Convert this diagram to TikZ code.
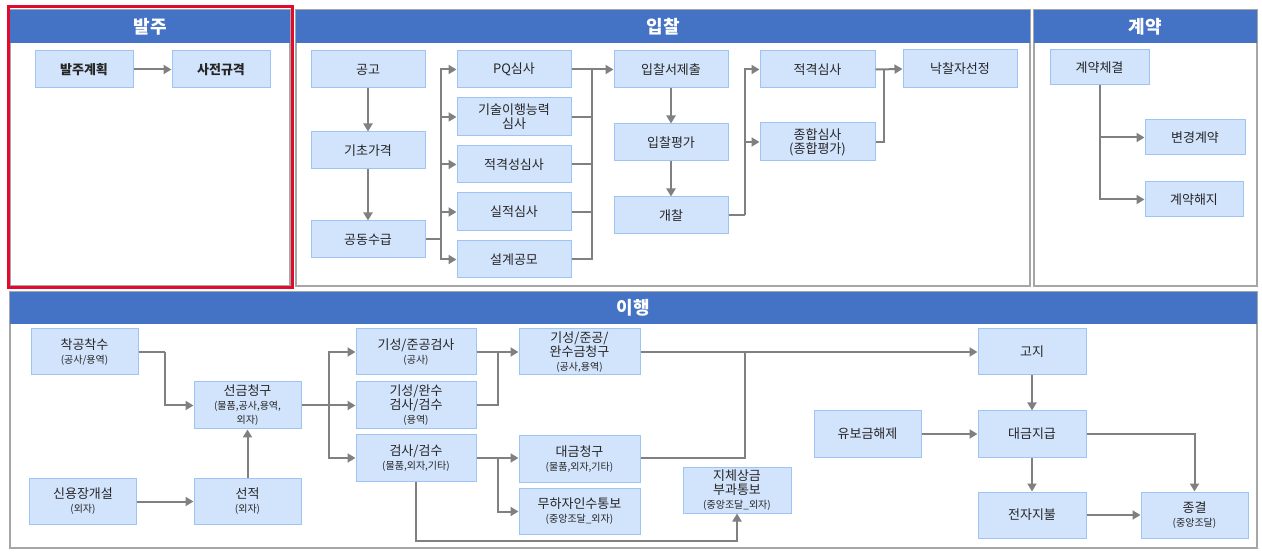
\documentclass[tikz,border=0pt]{standalone}
\usepackage{fontspec}
\setmainfont{Noto Sans CJK KR}
\usetikzlibrary{arrows.meta}
\definecolor{hdrblue}{HTML}{4472C4}
\definecolor{boxfill}{HTML}{D2E3FC}
\definecolor{boxline}{HTML}{9EC3F5}
\definecolor{lnkgray}{HTML}{808080}
\definecolor{pnlgray}{HTML}{A6A6A6}
\definecolor{selred}{HTML}{E00B2E}
\tikzset{
  box/.style={draw=boxline, fill=boxfill, line width=1pt, inner sep=1pt,
    align=center, font=\fontsize{13}{14}\selectfont, text=black!85},
  sub/.style={font=\fontsize{10}{11}\selectfont},
  lnk/.style={draw=lnkgray, line width=2pt},
  arr/.style={lnk, -{Triangle[length=8pt,width=9pt]}},
  pnl/.style={draw=pnlgray, line width=1.2pt},
  hdr/.style={fill=hdrblue, text=white, font=\fontsize{18}{20}\selectfont\bfseries}
}
\newcommand{\sm}[1]{{\fontsize{10}{11}\selectfont #1}}
\begin{document}
\begin{tikzpicture}[x=1pt,y=-1pt]
\useasboundingbox (0,0) rectangle (1262,553);
% panels
\draw[pnl] (10,10) rectangle (290,286);
\fill[hdrblue] (10,10) rectangle (290,43);
\node[hdr] at (150,27) {발주};
\draw[pnl] (296,10) rectangle (1030,286);
\fill[hdrblue] (296,10) rectangle (1030,43);
\node[hdr] at (663,27) {입찰};
\draw[pnl] (1034,10) rectangle (1257,286);
\fill[hdrblue] (1034,10) rectangle (1257,43);
\node[hdr] at (1145,27) {계약};
\draw[pnl] (10,292) rectangle (1257,548);
\fill[hdrblue] (10,292) rectangle (1257,324);
\node[hdr] at (633,308) {이행};
\draw[selred, line width=3pt] (8,7) rectangle (292,288);
% 발주
\node[box, minimum width=98, minimum height=37, font=\fontsize{13}{14}\selectfont\bfseries] (plan) at (84,69.5) {발주계획};
\node[box, minimum width=98, minimum height=37, font=\fontsize{13}{14}\selectfont\bfseries] (spec) at (221,69.5) {사전규격};
% 입찰
\node[box, minimum width=114, minimum height=37] (notice) at (368,69.5) {공고};
\node[box, minimum width=114, minimum height=37] (base) at (368,150.5) {기초가격};
\node[box, minimum width=114, minimum height=37] (joint) at (368,239.5) {공동수급};
\node[box, minimum width=114, minimum height=37] (pq) at (514,69.5) {PQ심사};
\node[box, minimum width=114, minimum height=38] (tech) at (514,117) {기술이행능력\\심사};
\node[box, minimum width=114, minimum height=37] (fit) at (514,164.5) {적격성심사};
\node[box, minimum width=114, minimum height=38] (perf) at (514,212) {실적심사};
\node[box, minimum width=114, minimum height=37] (design) at (514,259.5) {설계공모};
\node[box, minimum width=114, minimum height=37] (submit) at (671,69.5) {입찰서제출};
\node[box, minimum width=114, minimum height=37] (eval) at (671,142.5) {입찰평가};
\node[box, minimum width=114, minimum height=37] (open) at (671,215.5) {개찰};
\node[box, minimum width=115, minimum height=37] (qual) at (817.5,69.5) {적격심사};
\node[box, minimum width=115, minimum height=38] (total) at (817.5,142) {종합심사\\(종합평가)};
\node[box, minimum width=114, minimum height=38] (award) at (960,69) {낙찰자선정};
% 계약
\node[box, minimum width=99, minimum height=35] (sign) at (1099.5,67.5) {계약체결};
\node[box, minimum width=100, minimum height=35] (change) at (1195,137.5) {변경계약};
\node[box, minimum width=98, minimum height=35] (cancel) at (1194,199.5) {계약해지};
% 이행
\node[box, minimum width=107, minimum height=46] (start) at (84.5,352) {착공착수\\\sm{(공사/용역)}};
\node[box, minimum width=107, minimum height=47] (adv) at (247.5,405.5) {선금청구\\\sm{(물품,공사,용역,}\\\sm{외자)}};
\node[box, minimum width=107, minimum height=46] (lc) at (83,501.5) {신용장개설\\\sm{(외자)}};
\node[box, minimum width=107, minimum height=46] (ship) at (247.5,501.5) {선적\\\sm{(외자)}};
\node[box, minimum width=120, minimum height=46] (insp1) at (416,352) {기성/준공검사\\\sm{(공사)}};
\node[box, minimum width=120, minimum height=47] (insp2) at (416,405.5) {기성/완수\\검사/검수\\\sm{(용역)}};
\node[box, minimum width=120, minimum height=46] (insp3) at (416,458) {검사/검수\\\sm{(물품,외자,기타)}};
\node[box, minimum width=121, minimum height=46] (claim1) at (579.5,352) {기성/준공/\\완수금청구\\\sm{(공사,용역)}};
\node[box, minimum width=121, minimum height=46] (claim2) at (579.5,459) {대금청구\\\sm{(물품,외자,기타)}};
\node[box, minimum width=121, minimum height=46] (nodef) at (579.5,511.5) {무하자인수통보\\\sm{(중앙조달\_외자)}};
\node[box, minimum width=108, minimum height=46] (late) at (737,490) {지체상금\\부과통보\\\sm{(중앙조달\_외자)}};
\node[box, minimum width=108, minimum height=46] (bill) at (1032,352) {고지};
\node[box, minimum width=107, minimum height=46] (retain) at (867.5,434) {유보금해제};
\node[box, minimum width=108, minimum height=46] (pay) at (1032,434) {대금지급};
\node[box, minimum width=108, minimum height=46] (epay) at (1032,515) {전자지불};
\node[box, minimum width=107, minimum height=46] (close) at (1194.5,515) {종결\\\sm{(중앙조달)}};
% junction points
\coordinate (jA) at (441,239.5);
\coordinate (jB) at (592,69.5);
\coordinate (jC) at (745,215.5);
\coordinate (jD) at (884,69.5);
\coordinate (jE) at (165,352);
\coordinate (jF) at (329,405.5);
\coordinate (jG) at (498,352);
\coordinate (jH) at (498,458);
\coordinate (jI) at (745,352);
\coordinate (jJ) at (416,541);
% 발주 links
\draw[arr] (plan) -- (spec);
% 입찰 links
\draw[arr] (notice) -- (base);
\draw[arr] (base) -- (joint);
\draw[lnk] (joint.east) -- (jA);
\foreach \n in {pq,tech,fit,perf,design}
  \draw[arr] (jA) |- (\n.west);
\foreach \n in {tech,fit,perf,design}
  \draw[lnk] (\n.east) -| (jB);
\draw[arr] (pq.east) -- (submit.west);
\draw[arr] (submit) -- (eval);
\draw[arr] (eval) -- (open);
\draw[lnk] (open.east) -- (jC);
\draw[arr] (jC) |- (qual.west);
\draw[arr] (jC) |- (total.west);
\draw[arr] (qual.east) -- (award.west);
\draw[lnk] (total.east) -| (jD);
% 계약 links
\draw[arr] (sign.south) |- (change.west);
\draw[arr] (sign.south) |- (cancel.west);
% 이행 links
\draw[lnk] (start.east) -- (jE);
\draw[arr] (jE) |- (adv.west);
\draw[arr] (lc) -- (ship);
\draw[arr] (ship) -- (adv);
\draw[lnk] (adv.east) -- (jF);
\draw[arr] (jF) |- (insp1.west);
\draw[arr] (jF) -- (insp2.west);
\draw[arr] (jF) |- (insp3.west);
\draw[lnk] (insp2.east) -| (jG);
\draw[arr] (insp1.east) -- (claim1.west);
\draw[lnk] (insp3.east) -- (jH);
\draw[arr] (jH) -- (claim2.west |- jH);
\draw[arr] (jH) |- (nodef.west);
\draw[arr] (claim1.east) -- (bill.west);
\draw[lnk] (claim2.east |- jH) -| (jI);
\draw[arr] (insp3.south) -- (jJ) -| (late.south);
\draw[arr] (bill) -- (pay);
\draw[arr] (retain) -- (pay);
\draw[arr] (pay) -- (epay);
\draw[arr] (epay) -- (close);
\draw[arr] (pay.east) -| (close.north);
\end{tikzpicture}
\end{document}
